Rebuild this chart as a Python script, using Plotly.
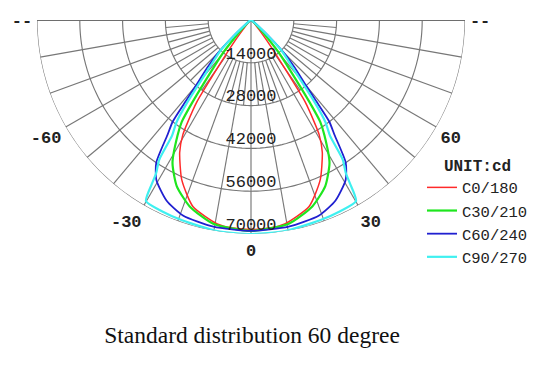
import numpy as np
import plotly.graph_objects as go

# ---- data (candela vs gamma angle; symmetric planes) ----
red_gamma = [0, 5, 9.4, 17.3, 23.4, 28.3, 30.7, 31.8, 33.5, 35, 37.5, 40, 45, 50, 60, 90]
red_cd = [68500, 68300, 67600, 63900, 57000, 49200, 43700, 39200, 32000, 19000, 9000, 4000, 1500, 600, 200, 0]

green_gamma = [0, 10.5, 18.2, 24.1, 28.8, 32.5, 34.2, 35.5, 38.2, 40.3, 42.5, 45, 50, 60, 90]
green_cd = [69000, 67800, 64200, 59500, 53300, 44700, 40300, 32800, 19900, 14400, 8000, 4000, 1500, 400, 0]

blue_gamma = [0, 10.3, 19.2, 25.1, 30.6, 33.6, 36.0, 37.6, 38.8, 40, 42.5, 45, 47.5, 50, 55, 60, 90]
blue_cd = [69000, 68700, 67700, 65200, 60800, 56000, 46500, 42000, 34000, 28000, 21200, 15600, 8000, 3000, 1000, 400, 0]

cyan_gamma = [0, 9.1, 18.8, 25, 30.1, 31.2, 31.8, 33.3, 34.3, 36.1, 37.8, 41.1, 45, 47.5, 50, 55, 60, 90]
cyan_cd = [70000, 69900, 69300, 69000, 68500, 62400, 58800, 54700, 45900, 41300, 33700, 20800, 14000, 7000, 2500, 800, 300, 0]

series_names = ["C0/180", "C30/210", "C60/240", "C90/270"]
series_colors = ["#ff2a2a", "#1ee61e", "#2020d0", "#3ff0f0"]
series_widths = [1.5, 2.2, 1.8, 2.2]

radial_ticks = [14000, 28000, 42000, 56000, 70000]
radial_labels = ["14000", "28000", "42000", "56000", "70000"]
angle_ticks = [-90, -60, -30, 0, 30, 60, 89.999]
angle_labels = ["--", "-60", "-30", "0", "30", "60", "--"]
unit_label = "UNIT:cd"
caption = "Standard distribution 60 degree"

RMAX = 70000
R_INNER = 14000
NADIR = 270  # gamma = 0 points straight down (screen angle 270 deg)

def th(g):
    return None if g is None else NADIR + g

fig = go.Figure()

# ---- grid (drawn as polar lines) ----
gth, grr = [], []
arc = list(np.arange(-90, 90.01, 1.0))
for rv in radial_ticks:
    gth += arc + [None]
    grr += [rv] * len(arc) + [None]
for a in range(-80, 81, 10):
    if a == 0:
        continue
    gth += [a, a, None]
    grr += [R_INNER, RMAX, None]
for a in range(-85, 86, 10):
    gth += [a, a, None]
    grr += [R_INNER, 2 * R_INNER, None]
gth += [0, 0, None]
grr += [0, RMAX, None]
fig.add_trace(go.Scatterpolar(theta=[th(v) for v in gth], r=grr, mode="lines",
                              line=dict(color="#777777", width=1.15),
                              hoverinfo="skip", showlegend=False, connectgaps=False))
# top diameter
fig.add_trace(go.Scatterpolar(theta=[th(-90), th(0), th(90)], r=[RMAX, 0, RMAX], mode="lines",
                              line=dict(color="#6e6e6e", width=2),
                              hoverinfo="skip", showlegend=False))

# ---- data curves ----
all_g = [red_gamma, green_gamma, blue_gamma, cyan_gamma]
all_cd = [red_cd, green_cd, blue_cd, cyan_cd]
for g, cd, nm, col, w in zip(all_g, all_cd, series_names, series_colors, series_widths):
    theta = [th(-x) for x in reversed(g)] + [th(x) for x in g[1:]]
    r = list(reversed(cd)) + list(cd[1:])
    fig.add_trace(go.Scatterpolar(theta=theta, r=r, mode="lines", name=nm,
                                  line=dict(color=col, width=w, shape="spline", smoothing=0.6)))

# ---- radial labels ----
fig.add_trace(go.Scatterpolar(theta=[th(0)] * len(radial_ticks), r=radial_ticks, mode="text",
                              text=radial_labels, textposition="top center",
                              textfont=dict(family="Liberation Mono", size=17, color="#222"),
                              hoverinfo="skip", showlegend=False, cliponaxis=False))

fig.update_layout(
    width=555, height=365,
    margin=dict(l=0, r=0, t=0, b=0),
    paper_bgcolor="white",
    polar=dict(
        domain=dict(x=[29 / 555, 457 / 555], y=[1 - 226 / 365, 1 - 12 / 365]),
        sector=[180, 360],
        bgcolor="white",
        radialaxis=dict(range=[0, RMAX], visible=False),
        angularaxis=dict(rotation=0, direction="counterclockwise",
                         tickmode="array", tickvals=[th(a) for a in angle_ticks],
                         ticktext=angle_labels,
                         ticks="outside", ticklen=1, tickcolor="rgba(0,0,0,0)",
                         tickfont=dict(family="Liberation Mono", size=17, color="#222",
                                       weight="bold"),
                         showgrid=False, showline=False),
    ),
    showlegend=True,
    legend=dict(x=414 / 555, xanchor="left", y=1 - 142 / 365, yanchor="top",
                bgcolor="rgba(0,0,0,0)",
                font=dict(family="Liberation Mono", size=15.5, color="#222"),
                title=dict(text=unit_label, side="top center",
                           font=dict(family="Liberation Mono", size=16, color="#222",
                                     weight="bold"))),
    title=dict(text=caption, x=244 / 555, xanchor="center", y=1 - 327 / 365, yanchor="middle",
               font=dict(family="Liberation Serif", size=23.5, color="#111")),
)

fig.write_html("out.html")
